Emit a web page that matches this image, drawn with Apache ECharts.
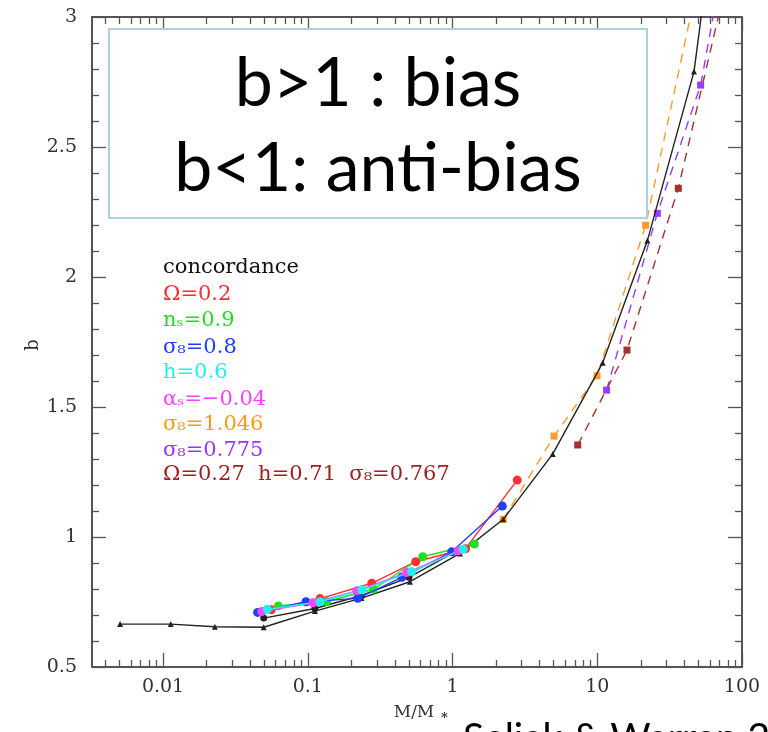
<!DOCTYPE html>
<html><head><meta charset="utf-8">
<script src="https://cdn.jsdelivr.net/npm/echarts@6/dist/echarts.min.js"></script>
<style>html,body{margin:0;padding:0;background:#fff}#c{width:768px;height:732px}</style>
</head><body><div id="c"></div>
<script>
// ---- data (M/M*, b) ----
const xMajorTicks = [0.01, 0.1, 1, 10, 100];
const xTickLabels = ['0.01', '0.1', '1', '10', '100'];
const yTickLabels = ['0.5', '1', '1.5', '2', '2.5', '3'];

const concordance = [[0.00505,0.665],[0.0113,0.665],[0.0228,0.655],[0.0496,0.653],[0.112,0.715],[0.235,0.765],[0.508,0.828],[1.127,0.937],[2.24,1.068],[4.92,1.319],[10.9,1.67],[22.2,2.14],[46.6,2.79],[100,4.2]];
const concordance2 = [[0.0496,0.688],[0.112,0.725],[0.235,0.775],[0.5,0.845],[1.1,0.95]];
const omega02 = [[0.056,0.72],[0.1215,0.763],[0.2766,0.822],[0.557,0.905],[1.23,0.955],[2.8,1.219]];
const ns09 = [[0.0626,0.735],[0.135,0.752],[0.284,0.799],[0.623,0.924],[1.415,0.973]];
const s8_08 = [[0.045,0.71],[0.0972,0.751],[0.2214,0.764],[0.446,0.845],[0.987,0.943],[2.21,1.119]];
const h06 = [[0.0525,0.722],[0.1215,0.751],[0.236,0.796],[0.522,0.867],[1.187,0.953]];
const alpha004 = [[0.0481,0.713],[0.109,0.747],[0.218,0.793],[0.483,0.863],[1.096,0.947]];
const s8_1046 = [[2.24,1.068],[5.03,1.388],[9.96,1.62],[21.6,2.199],[46,3.05]];
const s8_0775 = [[11.6,1.565],[26.0,2.245],[51.8,2.738],[111,3.75]];
const omega027 = [[7.33,1.354],[16.05,1.719],[36.3,2.341],[80,3.16]];

const legendLabels = ['concordance','Ω=0.2','nₛ=0.9','σ₈=0.8','h=0.6','αₛ=−0.04','σ₈=1.046','σ₈=0.775','Ω=0.27  h=0.71  σ₈=0.767'];
const legendColors = ['#111','#ff2a2a','#22dd22','#1f3dff','#22eeee','#ff40ff','#ff9a1a','#9a35ff','#a02020'];

// ---- chart ----
const xMin = 0.00323, xMax = 100;
const xMinor = [];
[-3,-2,-1,0,1].forEach(d => { for (let k = 2; k <= 9; k++) { const v = +(k * Math.pow(10, d)).toPrecision(3); if (v > xMin && v < xMax) xMinor.push(v); } });

const axisCol = '#555';
function xAx(pos, vals, len, showLine, showLabel) {
  return {
    type: 'log', logBase: 10, min: xMin, max: xMax, position: pos,
    axisLine: { show: showLine, onZero: false, lineStyle: { color: axisCol, width: 2 } },
    axisTick: { show: true, inside: true, length: len, customValues: vals, lineStyle: { color: axisCol, width: 1.3 } },
    axisLabel: { show: showLabel, customValues: xMajorTicks, margin: 11,
      formatter: v => { const i = xMajorTicks.findIndex(t => Math.abs(Math.log10(t) - Math.log10(v)) < 1e-6); return i >= 0 ? xTickLabels[i] : ''; },
      fontFamily: 'DejaVu Serif', fontSize: 19, color: '#333' },
    splitLine: { show: false }, minorTick: { show: false }, minorSplitLine: { show: false }
  };
}
function yAx(pos, showLabel) {
  return {
    type: 'value', min: 0.5, max: 3, interval: 0.5, position: pos,
    axisLine: { show: true, lineStyle: { color: axisCol, width: 2 } },
    axisTick: { show: true, inside: true, length: 14, lineStyle: { color: axisCol, width: 1.3 } },
    minorTick: { show: true, splitNumber: 5, length: 7, lineStyle: { color: axisCol, width: 1.3 } },
    axisLabel: { show: showLabel, margin: 15, fontFamily: 'DejaVu Serif', fontSize: 19, color: '#333',
      formatter: v => { const i = Math.round((v - 0.5) / 0.5); return yTickLabels[i] || ''; } },
    splitLine: { show: false }
  };
}

function ser(name, data, color, symbol, size, dashed, z) {
  return { name, type: 'line', data, xAxisIndex: 0, yAxisIndex: 0, symbol, symbolSize: size, z: z || 2,
    lineStyle: { color, width: 1.4, type: dashed ? [9, 7] : 'solid' },
    itemStyle: { color }, showSymbol: true, clip: true, silent: true };
}

const chart = echarts.init(document.getElementById('c'), null, { renderer: 'canvas' });
const legendGraphics = legendLabels.map((t, i) => ({
  type: 'text', left: 163, top: [270,297,323,350,375,402,427,453,477][i] - 13,
  style: { text: t, fill: legendColors[i], font: '21px "DejaVu Serif"' }, z: 10
}));

chart.setOption({
  animation: false,
  backgroundColor: '#fff',
  grid: { left: 92, top: 17, right: 26, bottom: 65, containLabel: false },
  xAxis: [ xAx('bottom', xMajorTicks, 14, true, true), xAx('bottom', xMinor, 7, false, false),
           xAx('top', xMajorTicks, 14, true, false), xAx('top', xMinor, 7, false, false) ],
  yAxis: [ yAx('left', true), yAx('right', false) ],
  series: [
    ser('concordance', concordance, '#222', 'triangle', 6, false, 3),
    ser('concordance2', concordance2, '#222', 'circle', 7, false, 2),
    ser('Ω=0.2', omega02, '#ff3030', 'circle', 9, false, 3),
    ser('ns=0.9', ns09, '#22dd22', 'circle', 9, false, 3),
    ser('σ8=0.8', s8_08, '#2040ff', 'circle', 9, false, 4),
    ser('σ8=1.046', s8_1046, '#ff9a2a', 'rect', 7, true, 2),
    ser('σ8=0.775', s8_0775, '#9a3aff', 'rect', 7, true, 2),
    ser('Ω=0.27', omega027, '#a53030', 'rect', 7, true, 2),
    ser('αs=-0.04', alpha004, '#ff44ff', 'circle', 9, false, 5),
    ser('h=0.6', h06, '#22eeee', 'circle', 9, false, 5)
  ],
  graphic: [
    { type: 'rect', shape: { x: 109, y: 29, width: 538, height: 189 }, style: { fill: '#fff', stroke: '#a9d3dc', lineWidth: 2 }, z: 20 },
    { type: 'text', x: 378, y: 84, style: { text: 'b>1 : bias', font: '68px Lato', fill: '#000', textAlign: 'center', textVerticalAlign: 'middle' }, z: 21 },
    { type: 'text', x: 378, y: 169, style: { text: 'b<1: anti-bias', font: '68px Lato', fill: '#000', textAlign: 'center', textVerticalAlign: 'middle' }, z: 21 },
    { type: 'text', x: 33, y: 345, rotation: Math.PI / 2, style: { text: 'b', font: '18px "DejaVu Serif"', fill: '#333', textAlign: 'center', textVerticalAlign: 'middle' }, z: 10 },
    { type: 'text', x: 414, y: 713, style: { text: 'M/M', font: '17px "DejaVu Serif"', fill: '#333', textAlign: 'center', textVerticalAlign: 'middle' }, z: 10 },
    { type: 'text', x: 441, y: 719, style: { text: '*', font: 'bold 13px "DejaVu Serif"', fill: '#333', textAlign: 'left', textVerticalAlign: 'middle' }, z: 10 },
    { type: 'text', x: 463, y: 738, style: { text: 'Seljak & Warren 2004', font: '39px Lato', fill: '#000', textAlign: 'left', textVerticalAlign: 'middle' }, z: 10 }
  ].concat(legendGraphics)
});
</script>
</body></html>
